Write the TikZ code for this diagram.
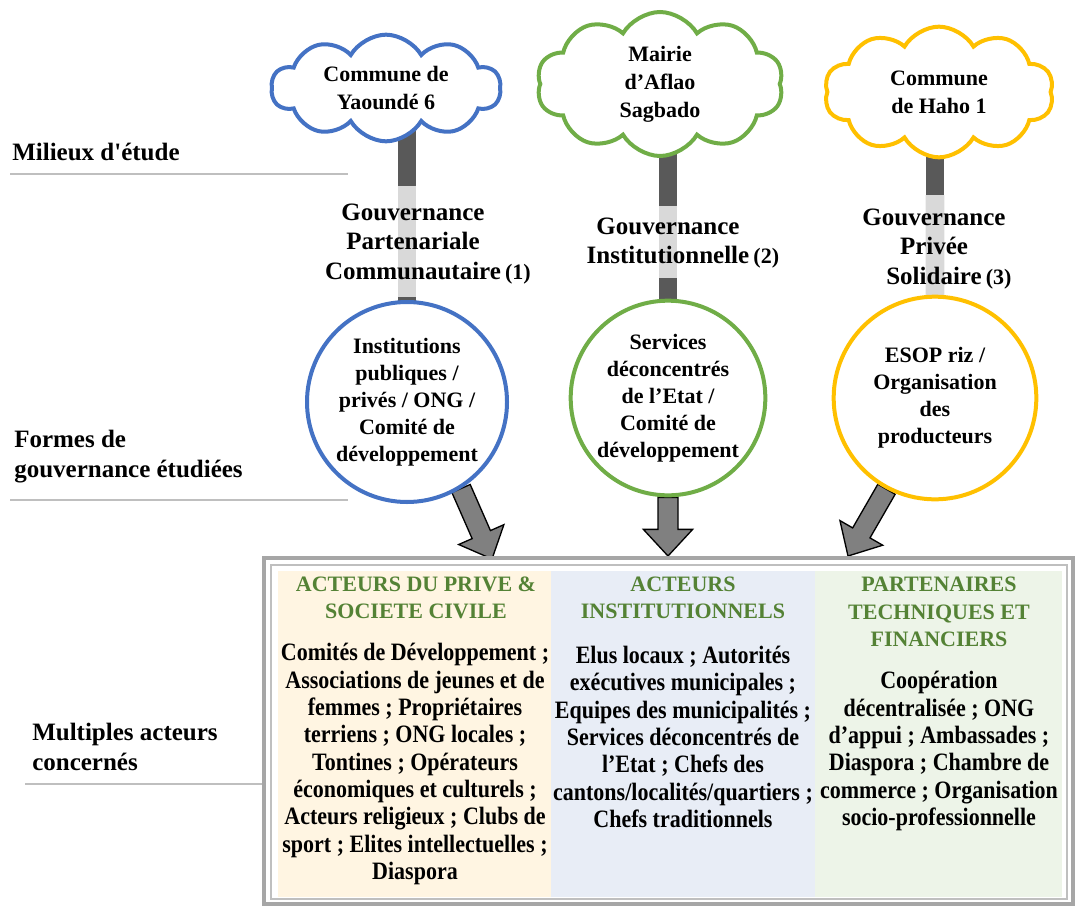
\documentclass[tikz,border=0pt]{standalone}
\usepackage{fontspec}
\setmainfont{Liberation Serif}
\newfontfamily\narrowfont[FakeStretch=0.88]{Liberation Serif}
\usetikzlibrary{shapes.symbols,calc,backgrounds}

\definecolor{cblue}{RGB}{68,114,196}
\definecolor{cgreen}{RGB}{112,173,71}
\definecolor{cyellow}{RGB}{255,192,0}
\definecolor{hgreen}{RGB}{84,130,53}
\definecolor{bardark}{RGB}{89,89,89}
\definecolor{barlight}{RGB}{217,217,217}
\definecolor{colone}{RGB}{255,245,226}
\definecolor{coltwo}{RGB}{232,237,246}
\definecolor{colthree}{RGB}{237,244,232}
\definecolor{framegray}{RGB}{166,166,166}

\newcommand{\blockarrow}[2]{%
\coordinate (bah) at ($(#2)!20pt!(#1)$);
\filldraw[blockarrow] ($(#1)!7.5pt!90:(#2)$) -- ($(bah)!7.5pt!90:(#2)$) -- ($(bah)!18.5pt!90:(#2)$) -- (#2) -- ($(bah)!18.5pt!-90:(#2)$) -- ($(bah)!7.5pt!-90:(#2)$) -- ($(#1)!7.5pt!-90:(#2)$) -- cycle;}

\begin{document}
\begin{tikzpicture}[x=0.75pt,y=-0.75pt,
  lbl/.style={font=\fontsize{18.75pt}{22.5pt}\selectfont\bfseries, align=left, anchor=west, inner sep=0pt},
  sepline/.style={draw=black!25, line width=1pt},
  site/.style={cloud, cloud puffs=10, cloud puff arc=120, cloud ignores aspect, fill=white, line width=3pt, align=center, inner sep=0pt, font=\fontsize{16.5pt}{21pt}\selectfont\bfseries},
  forme/.style={circle, fill=white, line width=3pt, align=center, inner sep=0pt, font=\fontsize{16.5pt}{20.25pt}\selectfont\bfseries},
  gouv/.style={align=center, inner sep=0pt, font=\fontsize{18.75pt}{22pt}\selectfont\bfseries},
  bar/.style={draw=bardark, line width=14pt},
  barhi/.style={draw=barlight, line width=14pt},
  blockarrow/.style={fill=black!50, draw=black, line width=1pt, line join=miter},
  head/.style={align=center, inner sep=0pt, text=hgreen, font=\fontsize{16.5pt}{20.6pt}\selectfont\bfseries},
  body/.style={align=center, inner sep=0pt, font=\narrowfont\fontsize{18.75pt}{20.5pt}\selectfont\bfseries}]
\useasboundingbox (0,0) rectangle (1077,906);

\node[lbl] (milieux) at (12,152) {Milieux d\textquotesingle étude};
\draw[sepline] (10,174) -- (348,174);
\node[lbl] (formes) at (14,457) {Formes de\\gouvernance étudiées};
\draw[sepline] (10,500) -- (348,500);
\node[lbl] (acteurs) at (32,747) {Multiples acteurs\\concernés};
\draw[sepline] (25,784) -- (265,784);

\node[site, draw=cblue, minimum width=172pt, minimum height=80pt] (yaounde) at (386,88) {Commune de\\Yaoundé 6};
\node[site, draw=cgreen, minimum width=185pt, minimum height=108pt] (aflao) at (660,84) {Mairie\\d’Aflao\\Sagbado};
\node[site, draw=cyellow, minimum width=172pt, minimum height=98pt] (haho) at (939,92) {Commune\\de Haho 1};

\node[forme, draw=cblue, minimum size=150pt] (partenariale) at (407,402) {Institutions\\publiques /\\privés / ONG /\\Comité de\\développement};
\node[forme, draw=cgreen, minimum size=146pt] (institution) at (668,398) {Services\\déconcentrés\\de l’Etat /\\Comité de\\développement};
\node[forme, draw=cyellow, minimum size=152pt] (privee) at (935,398) {ESOP riz /\\Organisation\\des\\producteurs};

\begin{pgfonlayer}{background}
\draw[bar] (partenariale.center) -- (partenariale.center |- yaounde.center);
\draw[barhi] ($(partenariale.center |- yaounde.center)!0.311!(partenariale.center)$) -- ($(partenariale.center |- yaounde.center)!0.667!(partenariale.center)$);
\draw[bar] (institution.center) -- (institution.center |- aflao.center);
\draw[barhi] ($(institution.center |- aflao.center)!0.387!(institution.center)$) -- ($(institution.center |- aflao.center)!0.619!(institution.center)$);
\draw[bar] (privee.center) -- (privee.center |- haho.center);
\draw[barhi] ($(privee.center |- haho.center)!0.337!(privee.center)$) -- ($(privee.center |- haho.center)!0.68!(privee.center)$);
\coordinate (tipone) at (492,559);
\coordinate (tiptwo) at (668,556);
\coordinate (tipthree) at (848,556);
\blockarrow{partenariale.-58}{tipone}
\blockarrow{institution.south}{tiptwo}
\blockarrow{privee.-118}{tipthree}
\end{pgfonlayer}

\node[gouv] (gouvone) at (413,244) {Gouvernance\\Partenariale\\Communautaire\rlap{\,\fontsize{16.5pt}{18pt}\selectfont(1)}};
\node[gouv] (gouvtwo) at (668,243) {Gouvernance\\Institutionnelle\rlap{\,\fontsize{16.5pt}{18pt}\selectfont(2)}};
\node[gouv] (gouvthree) at (934,249) {Gouvernance\\Privée\\Solidaire\rlap{\,\fontsize{16.5pt}{18pt}\selectfont(3)}};

\draw[draw=framegray, line width=3pt] (264,558) rectangle (1073,904);
\draw[draw=black!25, line width=1.5pt] (271,565) rectangle (1067,899);
\fill[colone] (278,571) rectangle (551,897);
\fill[coltwo] (551,571) rectangle (815,897);
\fill[colthree] (815,571) rectangle (1062,897);

\node[head] (headone) at (416,598) {ACTEURS DU PRIVE \&\\SOCIETE CIVILE};
\node[head] (headtwo) at (683,598) {ACTEURS\\INSTITUTIONNELS};
\node[head] (headthree) at (939,612) {PARTENAIRES\\TECHNIQUES ET\\FINANCIERS};

\node[body] (bodyone) at (415,764) {Comités de Développement ;\\Associations de jeunes et de\\femmes ; Propriétaires\\terriens ; ONG locales ;\\Tontines ; Opérateurs\\économiques et culturels ;\\Acteurs religieux ; Clubs de\\sport ; Elites intellectuelles ;\\Diaspora};
\node[body] (bodytwo) at (683,737) {Elus locaux ; Autorités\\exécutives municipales ;\\Equipes des municipalités ;\\Services déconcentrés de\\l’Etat ; Chefs des\\cantons/localités/quartiers ;\\Chefs traditionnels};
\node[body] (bodythree) at (939,751) {Coopération\\décentralisée ; ONG\\d’appui ; Ambassades ;\\Diaspora ; Chambre de\\commerce ; Organisation\\socio-professionnelle};
\end{tikzpicture}
\end{document}
